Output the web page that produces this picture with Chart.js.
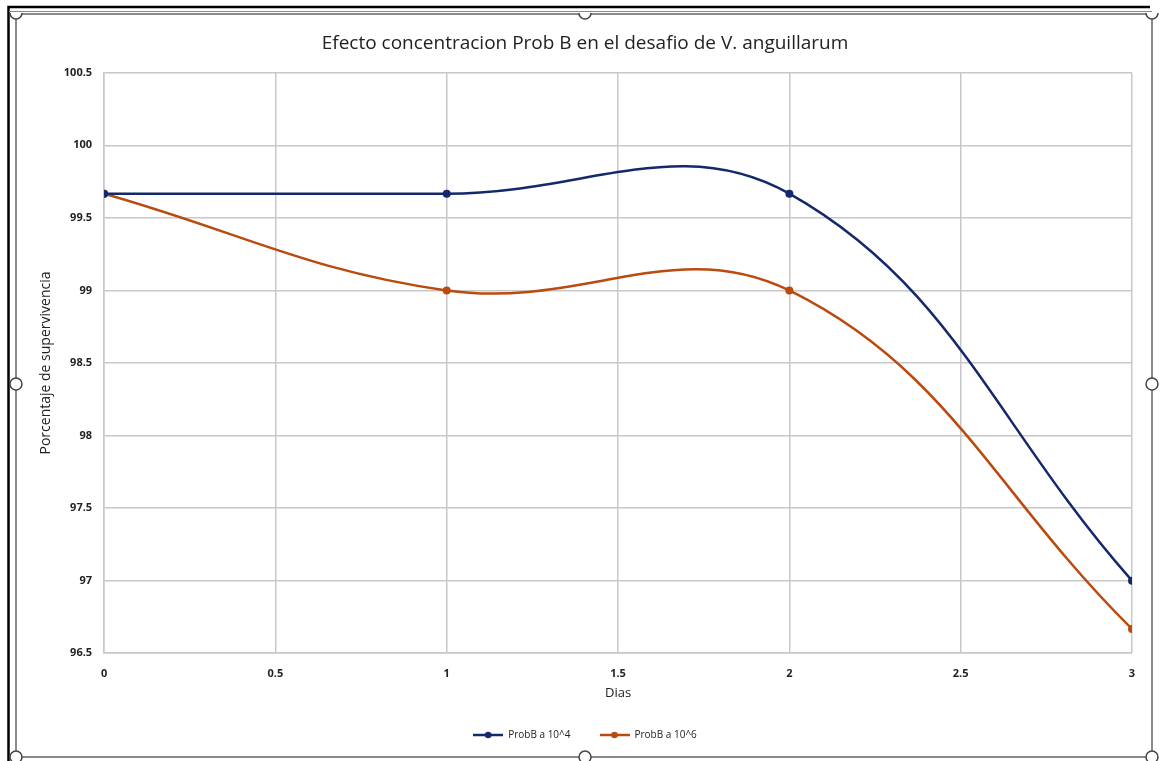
<!DOCTYPE html>
<html>
<head>
<meta charset="utf-8">
<script src="https://cdn.jsdelivr.net/npm/chart.js@4/dist/chart.umd.min.js"></script>
<style>
  html, body { margin: 0; padding: 0; background: #fff; }
  #wrap { position: relative; width: 1160px; height: 761px; }
</style>
</head>
<body>
<div id="wrap"><canvas id="myChart" width="1160" height="761"></canvas></div>
<script>
// DATA
const dias = [0, 1, 2, 3];
const probB4 = [99.667, 99.667, 99.667, 97.0];
const probB6 = [99.667, 99.0, 99.0, 96.667];
const seriesNames = ["ProbB a 10^4", "ProbB a 10^6"];
const chartTitle = "Efecto concentracion Prob B en el desafio de V. anguillarum";
const xTitle = "Dias";
const yTitle = "Porcentaje de supervivencia";

const blue = "#14296b";
const orange = "#bb4a0f";

// legend marker: line with a dot in the middle (like Excel)
function legendIcon(color) {
  const c = document.createElement("canvas");
  c.width = 30;
  c.height = 10;
  const g = c.getContext("2d");
  g.strokeStyle = color;
  g.lineWidth = 2.5;
  g.beginPath();
  g.moveTo(0, 5);
  g.lineTo(30, 5);
  g.stroke();
  g.fillStyle = color;
  g.beginPath();
  g.arc(15, 5, 3.3, 0, Math.PI * 2);
  g.fill();
  return c;
}
const legendIcons = [legendIcon(blue), legendIcon(orange)];

function toPoints(values) {
  return dias.map((d, i) => ({ x: d, y: values[i] }));
}

// label like Excel: 1 instead of 1.0
function fmt(v) {
  return String(+Number(v).toFixed(1));
}

// frame + selection handles around the chart (Excel chart object look)
const framePlugin = {
  id: "frame",
  afterDraw(chart) {
    const g = chart.ctx;
    g.save();
    g.strokeStyle = "#000";
    g.lineWidth = 2.5;
    g.beginPath();
    g.moveTo(8.5, 761);
    g.lineTo(8.5, 7);
    g.lineTo(1150, 7);
    g.stroke();
    g.strokeStyle = "#888";
    g.lineWidth = 1.2;
    g.beginPath();
    g.moveTo(9, 11.5);
    g.lineTo(1152, 11.5);
    g.stroke();
    g.strokeStyle = "#666";
    g.lineWidth = 1.5;
    g.beginPath();
    g.moveTo(16, 14);
    g.lineTo(1152, 14);
    g.moveTo(16, 14);
    g.lineTo(16, 757);
    g.lineTo(1152, 757);
    g.moveTo(1152, 14);
    g.lineTo(1152, 757);
    g.stroke();
    const handles = [
      [16, 13, true], [585, 13, true], [1152, 13, true],
      [16, 384, false], [1152, 384, false],
      [16, 757, false], [585, 757, false], [1152, 757, false],
    ];
    handles.forEach(([hx, hy, half]) => {
      g.beginPath();
      if (half) {
        g.arc(hx, hy, 6, 0, Math.PI);
      } else {
        g.arc(hx, hy, 6, 0, Math.PI * 2);
      }
      g.fillStyle = "#fff";
      g.fill();
      g.strokeStyle = "#444";
      g.lineWidth = 1.5;
      g.stroke();
    });
    g.restore();
  },
};

const ctx = document.getElementById("myChart").getContext("2d");
const chart = new Chart(ctx, {
  type: "line",
  data: {
    datasets: [
      {
        label: seriesNames[0],
        data: toPoints(probB4),
        borderColor: blue,
        backgroundColor: blue,
      },
      {
        label: seriesNames[1],
        data: toPoints(probB6),
        borderColor: orange,
        backgroundColor: orange,
      },
    ],
  },
  options: {
    responsive: false,
    animation: false,
    devicePixelRatio: 1,
    datasets: {
      line: {
        borderWidth: 2.5,
        tension: 0.4,
        cubicInterpolationMode: "default",
        pointRadius: 4,
        pointHoverRadius: 4,
        pointBorderWidth: 0,
        pointStyle: "circle",
      },
    },
    layout: {
      padding: { left: 38, right: 28, top: 32, bottom: 11 },
    },
    plugins: {
      title: {
        display: true,
        text: chartTitle,
        color: "#222",
        font: { family: "Open Sans", size: 19, weight: "normal" },
        padding: { top: 0, bottom: 18 },
      },
      legend: {
        position: "bottom",
        labels: {
          usePointStyle: true,
          pointStyleWidth: 30,
          color: "#222",
          font: { family: "Open Sans", size: 10 },
          padding: 29,
          generateLabels(chart) {
            return chart.data.datasets.map((ds, i) => ({
              text: ds.label,
              pointStyle: legendIcons[i],
              fontColor: "#222",
              datasetIndex: i,
              lineWidth: 0,
            }));
          },
        },
      },
      tooltip: { enabled: false },
    },
    scales: {
      x: {
        type: "linear",
        min: 0,
        max: 3,
        ticks: {
          stepSize: 0.5,
          color: "#222",
          padding: 14,
          callback: fmt,
          font: { family: "Open Sans", size: 11, weight: "bold" },
        },
        grid: { color: "#c8c8c8", lineWidth: 1.5, drawTicks: false },
        border: { color: "#c8c8c8", width: 1.5 },
        title: {
          display: true,
          text: xTitle,
          color: "#222",
          font: { family: "Open Sans", size: 13 },
          padding: { top: -9, bottom: 0 },
        },
      },
      y: {
        min: 96.5,
        max: 100.5,
        ticks: {
          stepSize: 0.5,
          color: "#222",
          padding: 12,
          callback: fmt,
          font: { family: "Open Sans", size: 11, weight: "bold" },
        },
        grid: { color: "#c8c8c8", lineWidth: 1.5, drawTicks: false },
        border: { color: "#c8c8c8", width: 1.5 },
        title: {
          display: true,
          text: yTitle,
          color: "#222",
          font: { family: "Open Sans", size: 14 },
          padding: { top: 0, bottom: -3 },
        },
      },
    },
  },
  plugins: [framePlugin],
});
</script>
</body>
</html>
